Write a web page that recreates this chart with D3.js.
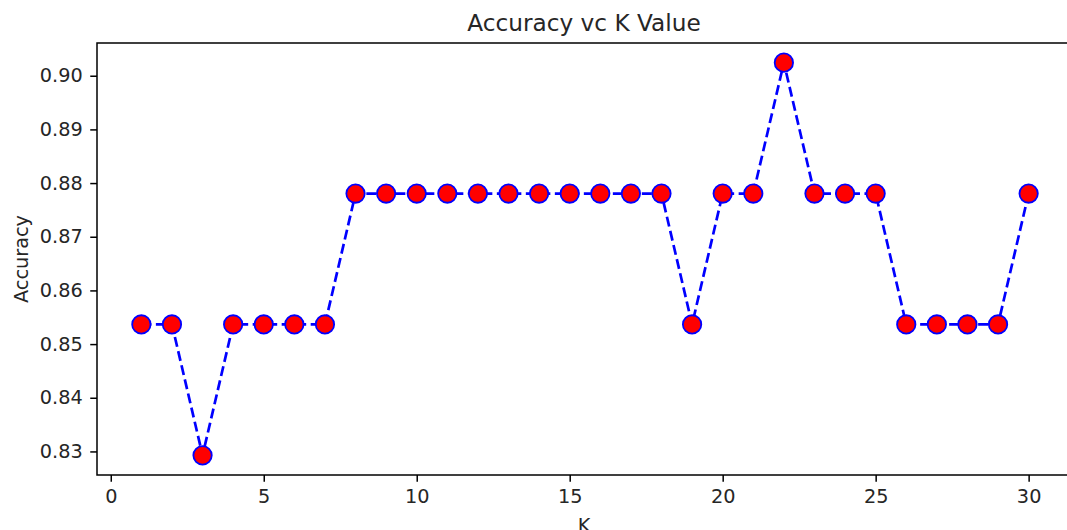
<!DOCTYPE html>
<html>
<head>
<meta charset="utf-8">
<script src="https://cdn.jsdelivr.net/npm/d3@7"></script>
<style>
  body { margin: 0; background: #fff; }
  svg { display: block; font-family: "DejaVu Sans", sans-serif; }
</style>
</head>
<body>
<svg></svg>
<script>
// dimensions
var svgWidth = 1067;
var svgHeight = 530;

// data: K values and the accuracy (n = 41 test rows)
var kValues = d3.range(1, 31);
var correct = [35, 35, 34, 35, 35, 35, 35, 36, 36, 36,
               36, 36, 36, 36, 36, 36, 36, 36, 35, 36,
               36, 37, 36, 36, 36, 35, 35, 35, 35, 36];
var accuracy = correct.map(c => c / 41);
var xTicks = [0, 5, 10, 15, 20, 25, 30];
var yTicks = [0.83, 0.84, 0.85, 0.86, 0.87, 0.88, 0.89, 0.90];

// axes box (right side runs past the window edge, like the original)
var margin = { top: 43, left: 97 };
var plotRight = 1073;
var plotBottom = 475;

var svg = d3.select("svg")
  .attr("width", svgWidth)
  .attr("height", svgHeight);

// matplotlib style 5% padding on the data range
var xMin = 1, xMax = 30;
var xPad = (xMax - xMin) * 0.05;
var yMin = d3.min(accuracy), yMax = d3.max(accuracy);
var yPad = (yMax - yMin) * 0.05;

var x = d3.scaleLinear()
  .domain([xMin - xPad, xMax + xPad])
  .range([margin.left, plotRight]);

var y = d3.scaleLinear()
  .domain([yMin - yPad, yMax + yPad])
  .range([plotBottom, margin.top]);

var tickFont = "19.3px";

// x axis
var xAxis = svg.append("g")
  .attr("transform", `translate(0,${plotBottom})`)
  .call(d3.axisBottom(x).tickValues(xTicks).tickFormat(d3.format("d")).tickSize(6.75).tickPadding(7.5));

// y axis
var yAxis = svg.append("g")
  .attr("transform", `translate(${margin.left},0)`)
  .call(d3.axisLeft(y).tickValues(yTicks).tickFormat(d3.format(".2f")).tickSize(6.75).tickPadding(7.5));

[xAxis, yAxis].forEach(function(g) {
  g.attr("font-family", "DejaVu Sans").attr("font-size", null);
  g.select(".domain").remove();
  g.selectAll(".tick line").attr("stroke", "#000").attr("stroke-width", 1.5);
  g.selectAll(".tick text").attr("fill", "#262626").style("font-size", tickFont);
});

// frame
svg.append("rect")
  .attr("x", margin.left)
  .attr("y", margin.top)
  .attr("width", plotRight - margin.left)
  .attr("height", plotBottom - margin.top)
  .attr("fill", "none")
  .attr("stroke", "#000")
  .attr("stroke-width", 1.5);

// dashed line
var line = d3.line()
  .x((d, i) => x(kValues[i]))
  .y(d => y(d));

svg.append("path")
  .attr("d", line(accuracy))
  .attr("fill", "none")
  .attr("stroke", "blue")
  .attr("stroke-width", 2.7)
  .attr("stroke-dasharray", "10,4.5");

// markers
svg.selectAll(".dot")
  .data(accuracy)
  .enter()
  .append("circle")
  .attr("class", "dot")
  .attr("cx", (d, i) => x(kValues[i]))
  .attr("cy", d => y(d))
  .attr("r", 9.2)
  .attr("fill", "red")
  .attr("stroke", "blue")
  .attr("stroke-width", 1.8);

// title and labels
svg.append("text")
  .attr("x", 584)
  .attr("y", 31)
  .attr("text-anchor", "middle")
  .style("font-size", "23.2px")
  .attr("fill", "#262626")
  .text("Accuracy vc K Value");

svg.append("text")
  .attr("x", 584)
  .attr("y", 532)
  .attr("text-anchor", "middle")
  .style("font-size", tickFont)
  .attr("fill", "#262626")
  .text("K");

svg.append("text")
  .attr("transform", `translate(28,${(margin.top + plotBottom) / 2}) rotate(-90)`)
  .attr("text-anchor", "middle")
  .style("font-size", tickFont)
  .attr("fill", "#262626")
  .text("Accuracy");
</script>
</body>
</html>
